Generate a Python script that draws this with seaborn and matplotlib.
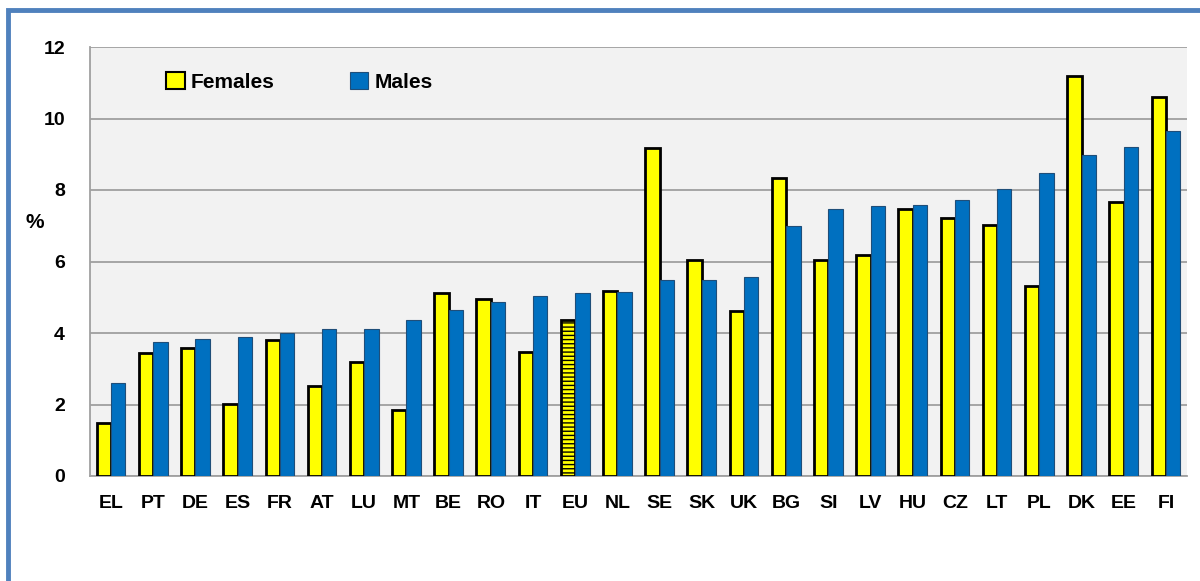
import matplotlib.pyplot as plt
import matplotlib.patches as mpatches
import seaborn as sns
import pandas as pd

countries = ["EL", "PT", "DE", "ES", "FR", "AT", "LU", "MT", "BE", "RO", "IT", "EU", "NL",
             "SE", "SK", "UK", "BG", "SI", "LV", "HU", "CZ", "LT", "PL", "DK", "EE", "FI"]
females = [1.48, 3.44, 3.58, 2.01, 3.8, 2.52, 3.19, 1.85, 5.12, 4.95, 3.47, 4.36, 5.17,
           9.17, 6.04, 4.62, 8.34, 6.04, 6.18, 7.48, 7.23, 7.02, 5.31, 11.2, 7.66, 10.6]
males = [2.6, 3.75, 3.83, 3.89, 4.0, 4.11, 4.11, 4.36, 4.64, 4.87, 5.03, 5.12, 5.15,
         5.48, 5.48, 5.57, 6.99, 7.46, 7.54, 7.57, 7.71, 8.04, 8.47, 8.97, 9.19, 9.65]
yticks = [0, 2, 4, 6, 8, 10, 12]

df = pd.DataFrame({
    "country": countries * 2,
    "value": females + males,
    "sex": ["Females"] * len(countries) + ["Males"] * len(countries),
})

sns.set_style("white")
plt.rcParams["font.family"] = ["Liberation Sans", "DejaVu Sans"]
plt.rcParams["hatch.linewidth"] = 1.0
plt.rcParams["text.color"] = "black"
plt.rcParams["xtick.color"] = "black"
plt.rcParams["ytick.color"] = "black"

fig = plt.figure(figsize=(12, 5.81), dpi=100)
ax = fig.add_axes([90 / 1200, 1 - 476 / 581, (1187 - 90) / 1200, (476 - 47) / 581])
ax.set_facecolor("#F2F2F2")

sns.barplot(
    data=df,
    x="country",
    y="value",
    hue="sex",
    palette={"Females": "#FFFF00", "Males": "#0070C0"},
    saturation=1,
    width=0.68,
    gap=0,
    ax=ax,
    legend=False,
    errorbar=None,
    zorder=3,
)

# edges: black for females, dark blue for males; hatch EU female bar
n = len(countries)
for i, bar in enumerate(ax.patches[:2 * n]):
    if i < n:
        bar.set_edgecolor("black")
        bar.set_linewidth(2.0)
        if countries[i] == "EU":
            bar.set_hatch("----")
    else:
        bar.set_edgecolor("#1F4E79")
        bar.set_linewidth(0.8)

ax.set_ylim(0, 12)
ax.set_xlim(-0.5, n - 0.5)
ax.set_yticks(yticks)
ax.set_yticklabels([str(t) for t in yticks], fontsize=14, fontweight="bold")
ax.yaxis.grid(True, color="#A0A0A0", linewidth=1.3, zorder=0)
ax.set_axisbelow(True)
ax.set_xlabel("")
ax.set_ylabel("")
ax.tick_params(axis="x", length=0, pad=14, labelsize=14)
for lbl in ax.get_xticklabels():
    lbl.set_fontweight("bold")
ax.tick_params(axis="y", length=6, color="#A0A0A0", labelcolor="black", width=1.3, pad=12)

# category boundary ticks on the x axis
ax.set_xticks([i - 0.5 for i in range(n + 1)], minor=True)
ax.tick_params(axis="x", which="minor", length=7, color="#A0A0A0", width=1.3)

for side in ["top", "right"]:
    ax.spines[side].set_visible(False)
for side in ["left", "bottom"]:
    ax.spines[side].set_color("#A0A0A0")
    ax.spines[side].set_linewidth(1.3)

fig.text(35 / 1200, 1 - 222 / 581, "%", fontsize=15, fontweight="bold", ha="center", va="center")

# legend
handles = [
    mpatches.Patch(facecolor="#FFFF00", edgecolor="black", linewidth=1.5, label="Females"),
    mpatches.Patch(facecolor="#0070C0", edgecolor="#1F4E79", linewidth=0.8, label="Males"),
]
ax.legend(handles=handles, loc="upper left", bbox_to_anchor=(0.052, 0.985), ncol=2,
          frameon=False, handlelength=0.9, handleheight=0.9, handletextpad=0.3,
          columnspacing=3.6, prop={"size": 15, "weight": "bold"})

# blue frame around the figure
top = 1 - 10 / 581
fig.add_artist(mpatches.Rectangle((8 / 1200, -0.2), 1.2, top + 0.2,
                                  transform=fig.transFigure, fill=False,
                                  edgecolor="#4F81BD", linewidth=3.5))

fig.savefig("out.png", dpi=100)
